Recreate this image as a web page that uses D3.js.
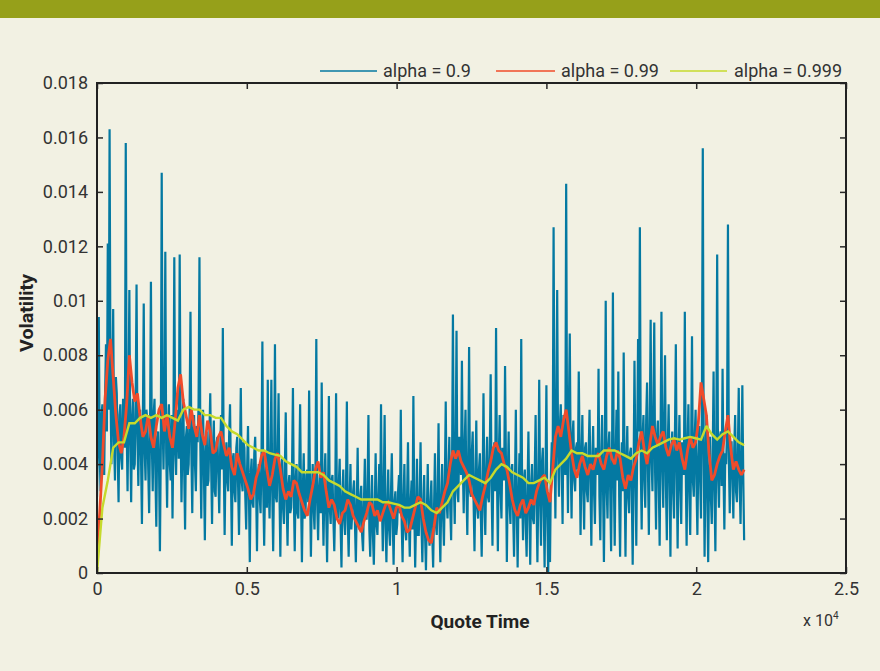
<!DOCTYPE html>
<html>
<head>
<meta charset="utf-8">
<script src="https://cdn.jsdelivr.net/npm/d3@7"></script>
<style>
  html, body { margin: 0; padding: 0; background: #f2f1e3; }
  svg { display: block; }
  text { font-family: Roboto, "Noto Sans", sans-serif; }
</style>
</head>
<body>
<svg id="chart" width="880" height="671"></svg>
<script>
// Volatility estimates (units of 1e-4) for three smoothing factors.
const UNIT = 1e-4;

// alpha = 0.9, one sample every 30 quotes
const BLUE_STEP = 30;
const vol09 = [
  28, 50, 94, 44, 30, 58, 62, 40, 36, 66, 84, 52,
  121, 60, 163, 70, 40, 62, 97, 48, 34, 72, 66, 44,
  26, 58, 62, 42, 38, 64, 58, 46, 158, 54, 30, 60,
  104, 48, 26, 56, 64, 38, 40, 62, 106, 50, 32, 58,
  60, 42, 18, 54, 99, 46, 34, 60, 56, 38, 22, 52,
  107, 48, 30, 58, 64, 36, 17, 50, 52, 40, 8, 46,
  147, 56, 38, 62, 118, 44, 24, 52, 62, 40, 34, 58,
  20, 50, 116, 46, 36, 60, 58, 42, 117, 54, 26, 48,
  64, 38, 16, 50, 54, 36, 40, 58, 96, 44, 22, 52,
  58, 40, 30, 54, 48, 62, 116, 46, 20, 50, 60, 36,
  12, 44, 52, 32, 34, 50, 66, 40, 18, 46, 56, 30,
  28, 48, 50, 36, 22, 44, 58, 38, 90, 42, 14, 40,
  48, 34, 30, 50, 62, 36, 10, 42, 44, 30, 26, 46,
  50, 32, 14, 40, 68, 34, 30, 48, 46, 28, 16, 38,
  54, 30, 4, 36, 42, 26, 24, 44, 50, 32, 8, 36,
  40, 28, 22, 42, 85, 30, 10, 34, 44, 24, 71, 32,
  20, 40, 71, 30, 8, 36, 84, 28, 26, 42, 66, 30,
  6, 34, 42, 24, 18, 38, 59, 26, 10, 32, 36, 22,
  24, 38, 68, 28, 8, 34, 40, 22, 20, 36, 62, 28,
  4, 30, 44, 20, 22, 36, 38, 26, 67, 32, 6, 28,
  40, 24, 16, 34, 86, 26, 12, 30, 36, 22, 70, 30,
  10, 32, 44, 22, 4, 28, 65, 24, 18, 34, 36, 20,
  8, 26, 66, 22, 20, 32, 42, 18, 2, 28, 38, 20,
  14, 30, 63, 20, 6, 26, 40, 16, 22, 30, 34, 18,
  4, 24, 46, 18, 16, 28, 32, 14, 8, 26, 42, 20,
  20, 30, 58, 16, 6, 24, 36, 14, 3, 22, 44, 18,
  14, 28, 40, 20, 62, 26, 8, 30, 58, 18, 4, 24,
  38, 16, 10, 28, 44, 20, 3, 26, 30, 14, 18, 30,
  36, 22, 60, 18, 4, 26, 40, 16, 12, 28, 48, 20,
  6, 26, 34, 16, 65, 24, 2, 20, 42, 14, 14, 28,
  48, 18, 4, 24, 36, 14, 1, 22, 40, 16, 10, 26,
  34, 14, 2, 24, 44, 18, 14, 28, 55, 20, 4, 26,
  40, 22, 10, 32, 63, 26, 20, 36, 50, 24, 12, 38,
  95, 34, 18, 44, 89, 30, 26, 50, 48, 36, 78, 40,
  22, 46, 60, 32, 14, 40, 83, 30, 28, 44, 52, 26,
  8, 34, 56, 24, 20, 38, 44, 22, 6, 30, 66, 28,
  14, 36, 50, 28, 26, 44, 73, 32, 10, 40, 48, 30,
  90, 36, 8, 42, 58, 30, 20, 46, 44, 34, 76, 40,
  4, 34, 52, 26, 18, 38, 40, 22, 6, 32, 60, 24,
  2, 28, 44, 20, 86, 30, 12, 34, 38, 18, 6, 30,
  52, 24, 3, 32, 40, 20, 18, 36, 58, 26, 4, 30,
  71, 30, 10, 40, 46, 24, 2, 34, 69, 22, 0, 28,
  4, 36, 48, 40, 127, 50, 20, 56, 104, 44, 28, 54,
  62, 40, 18, 58, 50, 36, 143, 48, 22, 60, 88, 42,
  20, 50, 56, 34, 30, 46, 48, 38, 74, 44, 14, 40,
  58, 32, 16, 46, 48, 30, 26, 44, 60, 34, 10, 40,
  54, 30, 18, 46, 44, 36, 75, 28, 12, 42, 58, 32,
  4, 38, 100, 32, 20, 46, 52, 30, 8, 40, 103, 36,
  10, 42, 60, 34, 74, 28, 6, 38, 48, 30, 81, 36,
  6, 40, 54, 28, 22, 44, 46, 30, 3, 36, 78, 42,
  10, 46, 86, 52, 127, 40, 16, 50, 58, 34, 24, 56,
  70, 38, 14, 54, 93, 42, 30, 58, 92, 36, 16, 50,
  56, 34, 10, 48, 96, 40, 24, 56, 80, 32, 12, 46,
  62, 36, 6, 44, 52, 30, 20, 50, 84, 38, 9, 42,
  58, 32, 18, 48, 46, 36, 96, 40, 10, 46, 62, 30,
  14, 44, 87, 34, 28, 50, 60, 32, 14, 42, 54, 36,
  20, 60, 156, 46, 6, 40, 58, 30, 4, 38, 50, 28,
  18, 42, 74, 30, 8, 46, 117, 36, 24, 50, 52, 32,
  75, 38, 16, 44, 40, 52, 128, 42, 22, 48, 48, 34,
  20, 46, 58, 30, 26, 44, 68, 34, 18, 40, 69, 36,
  12
];

// alpha = 0.99, one sample every 90 quotes
const RED_STEP = 90;
const vol099 = [
  8, 22, 40, 64, 78, 86, 72, 58, 48, 44,
  50, 62, 80, 70, 63, 66, 57, 50, 52, 58,
  50, 46, 54, 60, 62, 52, 58, 50, 46, 56,
  68, 73, 63, 58, 53, 60, 54, 50, 58, 51,
  47, 56, 52, 44, 45, 50, 52, 47, 43, 46,
  39, 36, 44, 40, 37, 34, 31, 27, 29, 35,
  38, 43, 45, 38, 32, 36, 42, 44, 38, 31,
  27, 30, 28, 34, 33, 29, 26, 23, 21, 27,
  32, 38, 41, 35, 37, 30, 24, 27, 25, 20,
  18, 22, 23, 27, 25, 21, 19, 17, 15, 19,
  22, 26, 25, 21, 23, 19, 22, 25, 26, 23,
  20, 24, 25, 21, 19, 15, 16, 20, 24, 28,
  27, 20, 15, 12, 11, 17, 24, 22, 26, 30,
  33, 40, 45, 42, 45, 41, 39, 37, 34, 29,
  27, 25, 23, 28, 32, 37, 41, 46, 48, 45,
  44, 40, 38, 33, 27, 23, 21, 25, 27, 22,
  24, 27, 25, 30, 33, 35, 36, 30, 26, 38,
  50, 54, 50, 56, 60, 52, 44, 38, 35, 40,
  43, 39, 36, 40, 38, 42, 44, 40, 38, 43,
  46, 42, 40, 45, 42, 35, 31, 36, 34, 39,
  42, 48, 52, 45, 40, 47, 54, 50, 47, 50,
  52, 46, 43, 47, 49, 45, 48, 42, 38, 45,
  50, 46, 48, 55, 70, 64, 58, 44, 34, 36,
  40, 43, 45, 52, 58, 46, 38, 41, 38, 36,
  38
];

// alpha = 0.999, one sample every 180 quotes
const YEL_STEP = 180;
const vol0999 = [
  0, 24, 34, 46, 48, 48, 55, 55, 57, 58,
  57, 58, 57, 58, 57, 56, 60, 61, 60, 60,
  58, 58, 57, 57, 54, 52, 51, 49, 47, 46,
  45, 45, 44, 43.5, 43, 41, 40, 39, 37, 37,
  37, 37, 36, 34, 33, 32, 30, 29, 28, 27,
  27, 27, 27, 26, 26, 25.5, 25, 24, 24, 25,
  26, 25, 23, 22, 24, 26, 30, 32, 34, 36,
  35, 34, 33, 35, 38, 40, 39, 37, 36, 35,
  33, 33, 34, 35, 33, 38, 40, 42, 45, 44,
  44, 43, 43, 43, 45, 45, 45, 44, 43, 42,
  44, 45, 44, 46, 47, 48, 49, 49.5, 49, 49.5,
  50, 49.5, 49, 54, 51, 49, 51, 52, 50, 48,
  47
];

// Axis ticks
const xTicks = [0, 5000, 10000, 15000, 20000, 25000];
const yTicks = [0, 0.002, 0.004, 0.006, 0.008, 0.01, 0.012, 0.014, 0.016, 0.018];

const seriesNames = ["alpha = 0.9", "alpha = 0.99", "alpha = 0.999"];
const colors = ["#0479a2", "#f04b2a", "#c6da2c"];

const svg = d3.select("#chart");
const W = 880, H = 671;
const plot = { left: 97, right: 846, top: 83, bottom: 573 };

// background + header band
svg.append("rect").attr("width", W).attr("height", H).attr("fill", "#f2f1e3");
svg.append("rect").attr("width", W).attr("height", 18).attr("fill", "#96a01a");

const x = d3.scaleLinear().domain([0, 25000]).range([plot.left, plot.right]);
const y = d3.scaleLinear().domain([0, 0.018]).range([plot.bottom, plot.top]);

svg.append("clipPath").attr("id", "plotclip")
  .append("rect")
  .attr("x", plot.left).attr("y", plot.top)
  .attr("width", plot.right - plot.left).attr("height", plot.bottom - plot.top);

const lines = svg.append("g").attr("clip-path", "url(#plotclip)");

function drawSeries(values, step, color, width) {
  const line = d3.line()
    .x((d, i) => x(i * step))
    .y(d => y(d * UNIT));
  lines.append("path")
    .datum(values)
    .attr("d", line)
    .attr("fill", "none")
    .attr("stroke", color)
    .attr("stroke-width", width)
    .attr("stroke-linejoin", "miter")
    .attr("stroke-miterlimit", 2);
}

drawSeries(vol09, BLUE_STEP, colors[0], 2.2);
drawSeries(vol099, RED_STEP, colors[1], 2.8);
drawSeries(vol0999, YEL_STEP, colors[2], 2.4);

// axes with inward ticks on all four sides
const tickColor = "#2a2a2a";
const fmtX = d => String(d / 1e4);
const fmtY = d => String(+d.toFixed(3));

const gBottom = svg.append("g").attr("transform", `translate(0,${plot.bottom})`)
  .call(d3.axisBottom(x).tickValues(xTicks).tickFormat(fmtX).tickSize(-6).tickPadding(9));
const gTop = svg.append("g").attr("transform", `translate(0,${plot.top})`)
  .call(d3.axisTop(x).tickValues(xTicks).tickFormat("").tickSize(-6));
const gLeft = svg.append("g").attr("transform", `translate(${plot.left},0)`)
  .call(d3.axisLeft(y).tickValues(yTicks).tickFormat(fmtY).tickSize(-6).tickPadding(9));
const gRight = svg.append("g").attr("transform", `translate(${plot.right},0)`)
  .call(d3.axisRight(y).tickValues(yTicks).tickFormat("").tickSize(-6));

[gBottom, gTop, gLeft, gRight].forEach(g => {
  g.select(".domain").remove();
  g.selectAll(".tick line").attr("stroke", tickColor).attr("stroke-width", 1.5);
  g.selectAll(".tick text")
    .attr("fill", "#333")
    .style("font-size", "18px")
    .style("font-family", "Roboto, 'Noto Sans', sans-serif");
});

// plot frame
svg.append("rect")
  .attr("x", plot.left).attr("y", plot.top)
  .attr("width", plot.right - plot.left).attr("height", plot.bottom - plot.top)
  .attr("fill", "none").attr("stroke", "#222").attr("stroke-width", 2);

// axis titles
svg.append("text")
  .attr("x", 480).attr("y", 628)
  .attr("text-anchor", "middle")
  .attr("font-weight", "bold").attr("font-size", 18).attr("fill", "#222")
  .attr("textLength", 99).attr("lengthAdjust", "spacingAndGlyphs")
  .text("Quote Time");

svg.append("text")
  .attr("transform", "translate(33,313) rotate(-90)")
  .attr("text-anchor", "middle")
  .attr("font-weight", "bold").attr("font-size", 18).attr("fill", "#222")
  .attr("textLength", 78).attr("lengthAdjust", "spacingAndGlyphs")
  .text("Volatility");

const expo = svg.append("text")
  .attr("x", 803).attr("y", 626)
  .attr("font-size", 16).attr("fill", "#333");
expo.append("tspan").text("x 10");
expo.append("tspan").attr("dy", -7).attr("font-size", 10).text("4");

// legend
const legendItems = [
  { name: seriesNames[0], color: colors[0], x1: 320, x2: 377, tx: 383 },
  { name: seriesNames[1], color: colors[1], x1: 496, x2: 555, tx: 561 },
  { name: seriesNames[2], color: colors[2], x1: 670, x2: 727, tx: 734 }
];
const legend = svg.append("g");
legendItems.forEach(it => {
  legend.append("line")
    .attr("x1", it.x1).attr("x2", it.x2).attr("y1", 71).attr("y2", 71)
    .attr("stroke", it.color).attr("stroke-width", 1.5);
  legend.append("text")
    .attr("x", it.tx).attr("y", 77)
    .attr("font-size", 18).attr("fill", "#333")
    .text(it.name);
});
</script>
</body>
</html>
